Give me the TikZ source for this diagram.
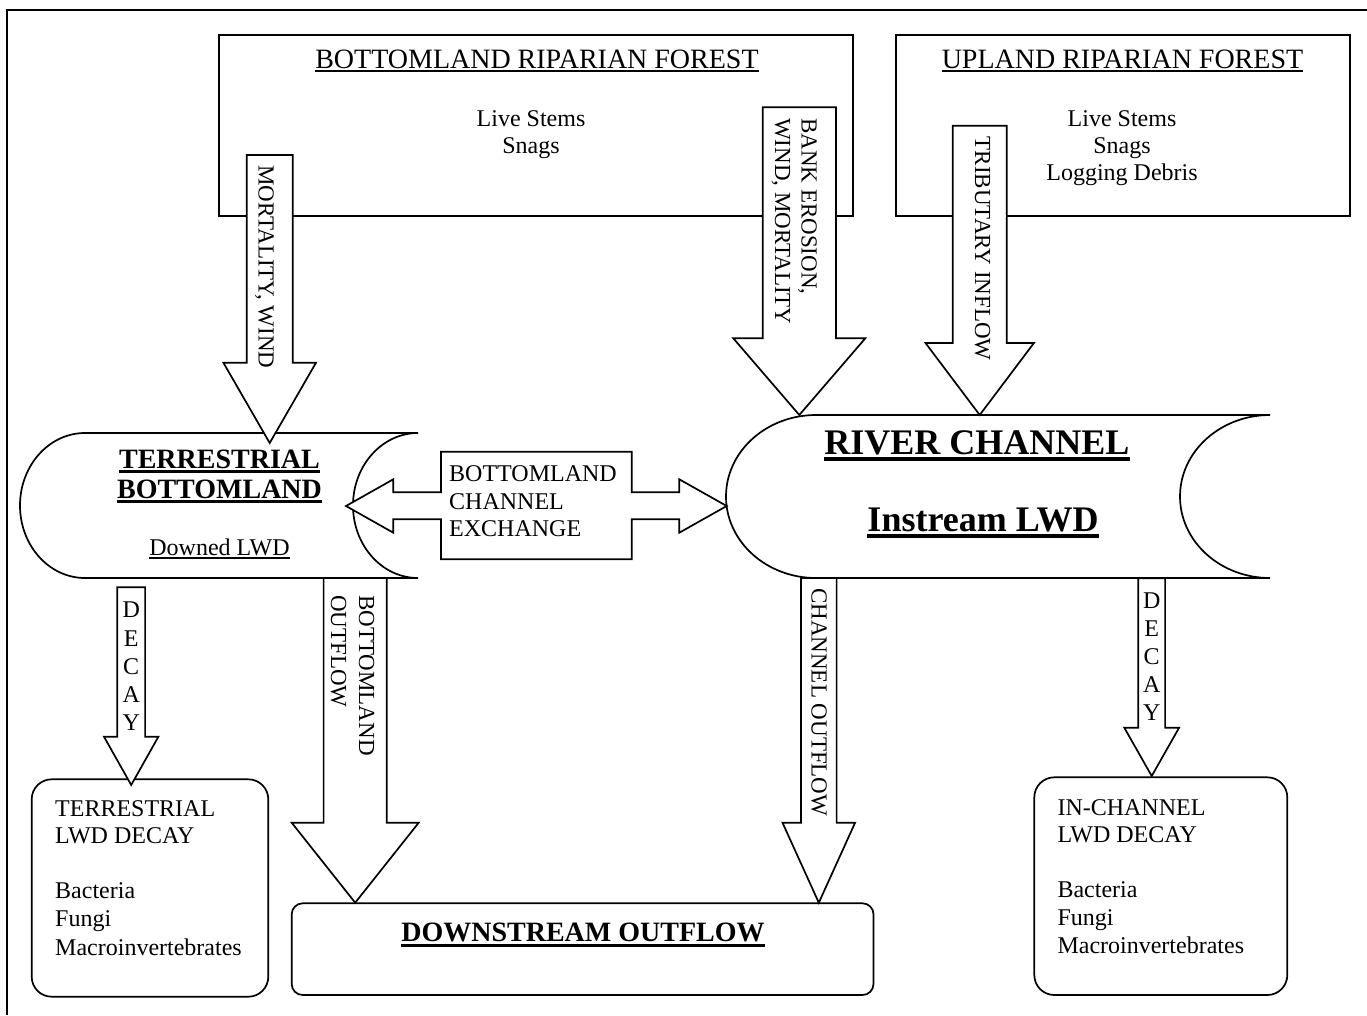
\documentclass[tikz,border=0pt]{standalone}
\usepackage{fontspec}
\setmainfont{Liberation Serif}
\newcommand\ulthin[1]{\sbox0{#1}\rlap{\rule[-3.5pt]{\wd0}{1.5pt}}\usebox0}
\newcommand\ulthick[1]{\sbox0{#1}\rlap{\rule[-5pt]{\wd0}{3pt}}\usebox0}
\newcommand\ulriver[1]{\sbox0{#1}\rlap{\rule[-6.5pt]{\wd0}{3.3pt}}\usebox0}
\tikzset{
  shapeline/.style={draw=black, fill=white, line width=1.7pt, line join=miter},
  blockarrow/.style={draw=black, fill=white, line width=1.7pt, line join=miter},
  boxline/.style={draw=black, fill=white, line width=1.7pt},
  txt/.style={inner sep=0pt, font=\fontsize{24}{27.5}\selectfont},
  bigtxt/.style={inner sep=0pt, font=\fontsize{28}{32}\selectfont},
  boldtxt/.style={inner sep=0pt, font=\fontsize{28}{30}\selectfont\bfseries},
  rivertxt/.style={inner sep=0pt, font=\fontsize{36}{40}\selectfont\bfseries},
  rtxt/.style={inner sep=0pt, rotate=-90, anchor=base west, font=\fontsize{23}{26}\selectfont},
}
% down block arrow: #2 cx, #3 half shaft, #4 top y, #5 head base y, #6 half head, #7 tip y
\newcommand\downblock[7][]{%
  \draw[blockarrow,#1] ({#2-#3},#4) -- ({#2+#3},#4) -- ({#2+#3},#5) -- ({#2+#6},#5)
    -- (#2,#7) -- ({#2-#6},#5) -- ({#2-#3},#5) -- cycle;}
% stored-data shape: #1 name, #2 x1, #3 x2, #4 ytop, #5 ybot, #6 bulge
\newcommand\sdshape[6]{%
  \pgfmathsetmacro\sdym{(#4+#5)/2}%
  \pgfmathsetmacro\sdky{0.5523*(#5-#4)/2}%
  \pgfmathsetmacro\sdkx{0.5523*#6}%
  \draw[shapeline] (#2,#4) coordinate (#1-nw) -- (#3,#4) coordinate (#1-ne)
    .. controls ({#3-\sdkx},#4) and ({#3-#6},{\sdym-\sdky}) .. ({#3-#6},\sdym) coordinate (#1-notch)
    .. controls ({#3-#6},{\sdym+\sdky}) and ({#3-\sdkx},#5) .. (#3,#5)
    -- (#2,#5)
    .. controls ({#2-\sdkx},#5) and ({#2-#6},{\sdym+\sdky}) .. ({#2-#6},\sdym) coordinate (#1-west)
    .. controls ({#2-#6},{\sdym-\sdky}) and ({#2-\sdkx},#4) .. cycle;}
\begin{document}
\begin{tikzpicture}[x=1pt,y=-1pt]
\fill[white] (0,0) rectangle (1367,1015);
\useasboundingbox (0,0) rectangle (1367,1015);
% frame
\draw[line width=2pt] (7,1015) -- (7,10) -- (1367,10);

% forest boxes
\draw[boxline] (219,35) rectangle (852.7,216);
\node[bigtxt, anchor=base] (brftitle) at (537,68) {\ulthin{BOTTOMLAND RIPARIAN FOREST}};
\node[txt, anchor=base] (brf1) at (531,126) {Live Stems};
\node[txt, anchor=base] (brf2) at (531,153) {Snags};

\draw[boxline] (896,35) rectangle (1350,216);
\node[bigtxt, anchor=base] (urftitle) at (1122.5,68) {\ulthin{UPLAND RIPARIAN FOREST}};
\node[txt, anchor=base] (urf1) at (1122,126) {Live Stems};
\node[txt, anchor=base] (urf2) at (1122,153) {Snags};
\node[txt, anchor=base] (urf3) at (1122,180) {Logging Debris};

% stored-data shapes
\sdshape{terr}{85}{418}{433}{578}{65}
\node[boldtxt, anchor=base] (terr1) at (219.5,468) {\ulthick{TERRESTRIAL}};
\node[boldtxt, anchor=base] (terr2) at (219.5,498) {\ulthick{BOTTOMLAND}};
\node[txt, anchor=base] (terr3) at (219.5,555) {\ulthin{Downed LWD}};

\sdshape{riv}{816}{1270}{415}{578}{90}
\node[rivertxt, anchor=base] (riv1) at (977,454) {\ulriver{RIVER CHANNEL}};
\node[rivertxt, anchor=base] (riv2) at (983,531) {\ulriver{Instream LWD}};

% bottom boxes
\draw[boxline, rounded corners=20pt] (31.7,779.3) rectangle (268.3,996.7);
\node[txt, anchor=base west] (td1) at (55,816.7) {TERRESTRIAL};
\node[txt, anchor=base west] (td2) at (55,843.5) {LWD DECAY};
\node[txt, anchor=base west] (td3) at (55,898.3) {Bacteria};
\node[txt, anchor=base west] (td4) at (55,926.5) {Fungi};
\node[txt, anchor=base west] (td5) at (55,955) {Macroinvertebrates};

\draw[boxline, rounded corners=20pt] (1034.3,777.3) rectangle (1287.3,995);
\node[txt, anchor=base west] (cd1) at (1057.3,815) {IN-CHANNEL};
\node[txt, anchor=base west] (cd2) at (1057.3,842.7) {LWD DECAY};
\node[txt, anchor=base west] (cd3) at (1057.3,897.7) {Bacteria};
\node[txt, anchor=base west] (cd4) at (1057.3,925.5) {Fungi};
\node[txt, anchor=base west] (cd5) at (1057.3,953.3) {Macroinvertebrates};

\draw[boxline, rounded corners=11pt] (291.7,903.3) rectangle (873.5,995);
\node[boldtxt, anchor=base] (dso) at (583,941.7) {\ulthick{DOWNSTREAM OUTFLOW}};

% block arrows
\downblock{269.7}{23}{155}{362.7}{46.3}{443}
\node[rtxt] (mortxt) at (258.5,165) {MORTALITY, WIND};

\downblock{799.3}{36.6}{107.3}{338.3}{66}{415}
\node[rtxt] (bank1) at (801.7,118) {BANK EROSION,};
\node[rtxt] (bank2) at (775,118) {WIND, MORTALITY};

\downblock{979.7}{27}{125.7}{343}{54.2}{415}
\node[rtxt] (trib) at (975,136.7) {TRIBUTARY INFLOW};

\downblock{131.2}{13.9}{587.3}{736.7}{27.2}{785}
\foreach \L [count=\i from 0] in {D,E,C,A,Y}
  \node[txt] (ldk\i) at (131.2,{610+28.2*\i}) {\L};

\downblock{1151.7}{13.4}{578.3}{727.7}{27.4}{776}
\foreach \L [count=\i from 0] in {D,E,C,A,Y}
  \node[txt] (rdk\i) at (1151.7,{600.5+28*\i}) {\L};

\downblock{355.2}{31.6}{578}{822.7}{63.5}{902.7}
\node[rtxt] (bo1) at (359,595) {BOTTOMLAND};
\node[rtxt] (bo2) at (331,595) {OUTFLOW};

\downblock{818.8}{17.8}{578}{822.7}{36.3}{902.7}
\node[rtxt] (co1) at (811.5,588) {CHANNEL OUTFLOW};

% exchange double arrow
\draw[blockarrow] (441,451.7) -- (631.7,451.7) -- (631.7,492.3) -- (679.3,492.3) -- (679.3,479.3)
  -- (726.7,506) -- (679.3,532.7) -- (679.3,519.3) -- (631.7,519.3) -- (631.7,559.3)
  -- (441,559.3) -- (441,519.3) -- (393.3,519.3) -- (393.3,532.7) -- (346,506)
  -- (393.3,479.3) -- (393.3,492.3) -- (441,492.3) -- cycle;
\node[txt, anchor=base west] (ex1) at (449,481.5) {BOTTOMLAND};
\node[txt, anchor=base west] (ex2) at (449,509) {CHANNEL};
\node[txt, anchor=base west] (ex3) at (449,536.5) {EXCHANGE};
\end{tikzpicture}
\end{document}
